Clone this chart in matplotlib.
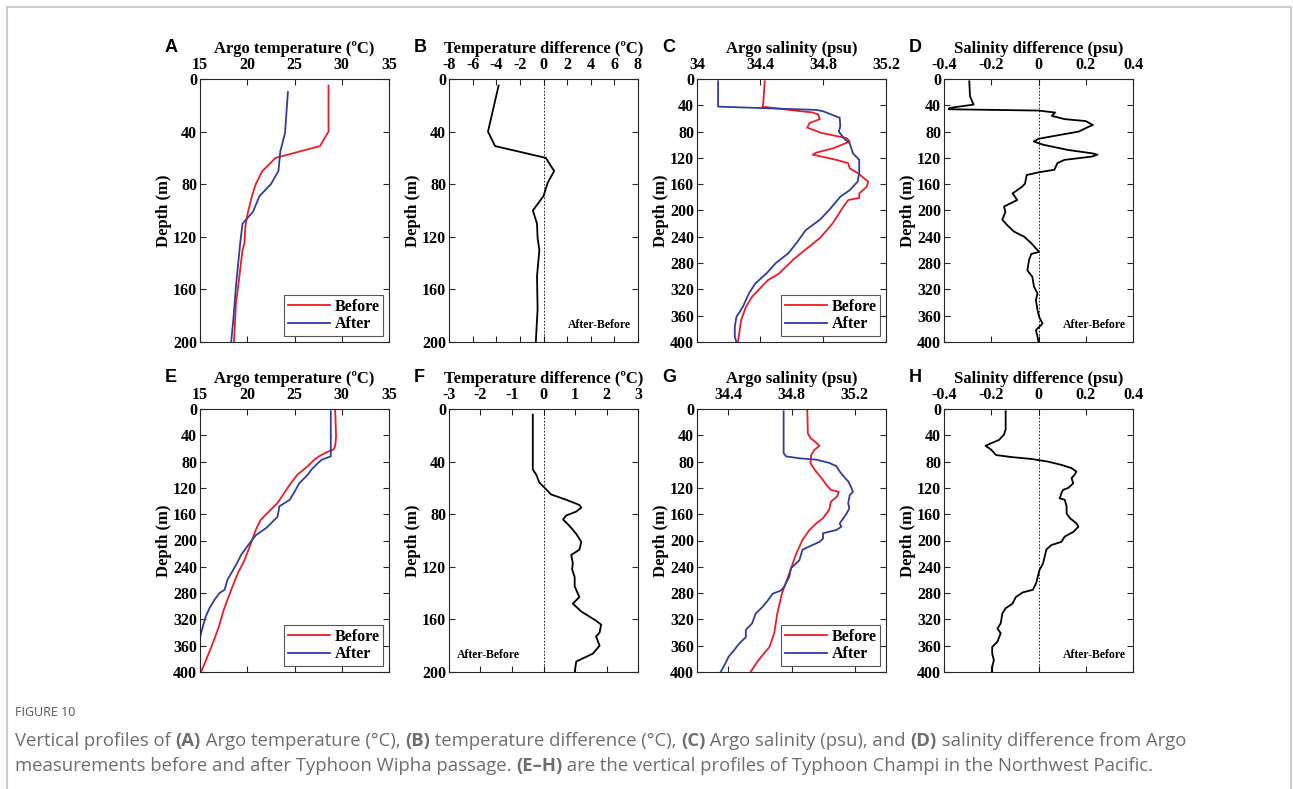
import matplotlib
matplotlib.use('Agg')
import matplotlib.pyplot as plt
from matplotlib.patches import Rectangle

# ---- data ----
# A: Typhoon Wipha, temperature
a_before_z = [5, 40, 51, 60, 70, 80, 89, 102, 112, 125, 130, 154, 171, 200]
a_before_t = [28.6, 28.6, 27.7, 23.0, 21.6, 20.9, 20.5, 20.05, 19.8, 19.7, 19.5, 19.1, 18.8, 18.6]
a_after_z = [10, 41, 55, 70, 80, 89, 101, 110, 125, 158, 181, 200]
a_after_t = [24.3, 24.0, 23.5, 23.3, 22.5, 21.3, 20.6, 19.5, 19.25, 18.8, 18.55, 18.3]

# B: temperature difference
b_z = [5, 40, 51, 60, 70, 79, 89, 100, 110, 121, 130, 150, 175, 200]
b_dt = [-3.8, -4.7, -4.1, 0.2, 0.9, 0.35, 0.0, -0.9, -0.55, -0.5, -0.35, -0.55, -0.5, -0.65]

# C: salinity
c_before_z = [3.5, 39, 42, 47, 51, 54, 61, 67, 74, 82, 90, 95, 105, 112, 115, 123, 128, 136,
              143, 156, 164, 174, 181, 184, 194, 220, 242, 263, 275, 296, 306, 331, 347, 367, 400]
c_before_s = [34.43, 34.42, 34.415, 34.585, 34.735, 34.77, 34.78, 34.714, 34.70, 34.79, 34.95,
              34.97, 34.87, 34.757, 34.735, 34.885, 34.96, 34.97, 35.02, 35.087, 35.077, 35.03,
              35.03, 34.96, 34.93, 34.86, 34.78, 34.67, 34.61, 34.52, 34.45, 34.35, 34.31, 34.28, 34.26]
c_after_z = [3.5, 42, 47, 49, 59, 72, 80, 92, 98, 113, 123, 143, 156, 169, 179, 199, 214, 230,
             250, 265, 280, 296, 311, 326, 347, 362, 377, 392, 400]
c_after_s = [34.134, 34.134, 34.757, 34.80, 34.906, 34.91, 34.90, 34.94, 34.97, 34.99, 35.03,
             35.03, 35.02, 34.97, 34.91, 34.84, 34.78, 34.69, 34.63, 34.58, 34.50, 34.44, 34.37,
             34.33, 34.29, 34.25, 34.24, 34.24, 34.25]

# D: salinity difference
d_z = [3.5, 26, 39, 44, 46, 48, 51, 56, 61, 64, 70, 73, 80, 87, 91, 95, 100, 108, 113, 115, 118,
       123, 128, 138, 142, 146, 159, 164, 174, 184, 194, 202, 214, 222, 232, 240, 250, 263, 266,
       275, 291, 301, 316, 326, 336, 352, 362, 372, 382, 392, 400]
d_ds = [-0.293, -0.29, -0.275, -0.377, -0.38, 0.0, 0.07, 0.056, 0.11, 0.20, 0.23, 0.21, 0.17,
        0.06, 0.0, -0.02, 0.02, 0.126, 0.226, 0.25, 0.226, 0.11, 0.08, 0.067, 0.0, -0.05, -0.057,
        -0.07, -0.11, -0.09, -0.146, -0.14, -0.153, -0.133, -0.104, -0.06, -0.03, 0.003, -0.03,
        -0.04, -0.047, -0.026, -0.019, -0.004, -0.011, -0.004, 0.003, 0.017, -0.011, -0.004, 0.0]

# E: Typhoon Champi, temperature
e_before_z = [0, 42, 57, 62, 65, 72, 77, 87, 100, 113, 128, 143, 153, 169, 184, 204, 230, 250,
              275, 306, 331, 362, 397, 400]
e_before_t = [29.3, 29.4, 29.3, 29.1, 28.5, 27.6, 27.1, 26.4, 25.3, 24.6, 23.9, 23.2, 22.5,
              21.4, 20.9, 20.4, 19.7, 19.0, 18.3, 17.5, 17.0, 16.2, 15.2, 15.1]
e_after_z = [3.5, 72, 77, 82, 92, 100, 113, 126, 138, 148, 164, 174, 181, 192, 207, 222, 232,
             245, 260, 275, 280, 291, 303, 316, 331, 347]
e_after_t = [28.84, 28.84, 27.9, 27.5, 26.8, 26.4, 25.5, 25.0, 24.5, 23.4, 23.2, 22.5, 22.0,
             20.9, 20.1, 19.35, 19.0, 18.5, 17.9, 17.6, 17.05, 16.5, 16.0, 15.6, 15.3, 15.0]

# F: temperature difference
f_z = [4.3, 39, 46, 50, 56, 61, 65, 69, 73, 75, 78, 81, 84, 89, 95, 101, 107, 111, 117, 122,
       128, 135, 143, 148, 154, 161, 164, 170, 173, 180, 186, 192, 200]
f_dt = [-0.34, -0.34, -0.34, -0.23, -0.13, 0.08, 0.24, 0.72, 1.14, 1.2, 1.04, 0.72, 0.62, 0.83,
        1.04, 1.2, 1.14, 0.88, 0.93, 0.91, 0.99, 0.99, 1.14, 0.93, 1.2, 1.67, 1.83, 1.78, 1.67,
        1.78, 1.57, 1.04, 0.99]

# G: salinity
g_before_z = [0, 37, 44, 49, 56, 62, 70, 82, 92, 108, 115, 123, 126, 133, 141, 153, 166, 174,
              184, 199, 220, 250, 280, 311, 341, 362, 382, 400]
g_before_s = [34.90, 34.904, 34.92, 34.946, 34.978, 34.946, 34.925, 34.92, 34.946, 35.0, 35.02,
              35.05, 35.10, 35.09, 35.05, 35.04, 35.0, 34.957, 34.914, 34.87, 34.83, 34.786,
              34.74, 34.71, 34.69, 34.66, 34.59, 34.54]
g_after_z = [3.5, 67, 72, 75, 77, 82, 87, 95, 105, 110, 118, 126, 131, 143, 151, 159, 166, 174,
             179, 184, 189, 197, 202, 209, 214, 230, 242, 255, 270, 276, 281, 291, 301, 311, 326,
             336, 347, 357, 367, 377, 387, 400]
g_after_s = [34.75, 34.75, 34.765, 34.85, 34.957, 35.04, 35.085, 35.106, 35.14, 35.16, 35.177,
             35.19, 35.17, 35.16, 35.167, 35.15, 35.13, 35.106, 35.117, 35.085, 35.0, 35.0,
             34.978, 34.914, 34.87, 34.85, 34.797, 34.786, 34.754, 34.733, 34.68, 34.65, 34.616,
             34.573, 34.55, 34.51, 34.51, 34.467, 34.435, 34.40, 34.38, 34.35]

# H: salinity difference
h_z = [3.5, 31, 39, 47, 52, 56, 62, 70, 73, 76, 80, 85, 90, 95, 100, 105, 113, 120, 123, 128,
       136, 138, 148, 159, 166, 174, 179, 187, 194, 202, 207, 214, 225, 235, 245, 255, 265, 275,
       279, 286, 296, 303, 311, 326, 334, 341, 354, 362, 372, 382, 392, 400]
h_ds = [-0.139, -0.139, -0.146, -0.167, -0.20, -0.224, -0.20, -0.18, -0.117, -0.03, 0.04,
        0.097, 0.14, 0.16, 0.153, 0.14, 0.147, 0.126, 0.104, 0.097, 0.09, 0.111, 0.119, 0.119,
        0.133, 0.161, 0.169, 0.147, 0.111, 0.097, 0.054, 0.033, 0.026, 0.019, 0.004, -0.003,
        -0.01, -0.024, -0.067, -0.096, -0.11, -0.139, -0.153, -0.16, -0.174, -0.16, -0.174,
        -0.196, -0.196, -0.189, -0.196, -0.196]

panel_letters = ['A', 'B', 'C', 'D', 'E', 'F', 'G', 'H']
titles = ['Argo temperature (ºC)', 'Temperature difference (ºC)', 'Argo salinity (psu)',
          'Salinity difference (psu)'] * 2

RED = '#ee1c25'
BLUE = '#2e3f9c'
SERIF = 'Liberation Serif'

fig = plt.figure(figsize=(12.93, 7.89), dpi=100)
W, H = 1293, 789

# light frame around the figure
fig.patches.append(Rectangle((7 / W, -0.01), 1284 / W, 1 - 7 / H + 0.01,
                             transform=fig.transFigure, fill=False,
                             edgecolor='#cccccc', linewidth=1.5))

lefts = [200, 449, 697, 944]
tops = [79, 409]
aw, ah = 189, 263

axes = []
for r in range(2):
    for c in range(4):
        ax = fig.add_axes([lefts[c] / W, 1 - (tops[r] + ah) / H, aw / W, ah / H])
        axes.append(ax)

def style(ax, xlim, xticks, xticklabels, ymax, title, letter):
    ax.set_xlim(*xlim)
    ax.set_ylim(ymax, 0)
    ax.set_xticks(xticks)
    ax.set_xticklabels(xticklabels)
    ax.set_yticks(range(0, ymax + 1, 40))
    ax.xaxis.tick_top()
    ax.xaxis.set_label_position('top')
    ax.tick_params(direction='in', length=4, width=0.8, top=True, bottom=True,
                   left=True, right=True, labelsize=11.5, pad=2, colors='#262626',
                   labelcolor='black')
    ax.tick_params(axis='x', pad=4)
    for lab in ax.get_xticklabels() + ax.get_yticklabels():
        lab.set_fontfamily(SERIF)
        lab.set_fontweight('bold')
    for sp in ax.spines.values():
        sp.set_color('#262626')
        sp.set_linewidth(0.8)
    ax.set_xlabel(title, fontfamily=SERIF, fontweight='bold', fontsize=12, labelpad=3.5)
    ax.set_ylabel('Depth (m)', fontfamily=SERIF, fontweight='bold', fontsize=12, labelpad=1)
    bb = ax.get_position()
    fig.text(bb.x0 - 35 / W, bb.y1 + 31 / H, letter, fontfamily='Liberation Sans',
             fontweight='bold', fontsize=13, ha='left', va='center')

def legend(ax):
    leg = ax.legend(loc='lower right', prop={'family': SERIF, 'weight': 'bold', 'size': 11.5},
                    fancybox=False, edgecolor='#555555', framealpha=1, handlelength=2.6,
                    handletextpad=0.3, borderpad=0.25, labelspacing=0.1, borderaxespad=0.35)
    leg.get_frame().set_linewidth(0.8)

def diff_note(ax, right=True):
    if right:
        ax.text(0.96, 0.04, 'After-Before', transform=ax.transAxes, ha='right', va='bottom',
                fontfamily=SERIF, fontweight='bold', fontsize=8.5)
    else:
        ax.text(0.04, 0.04, 'After-Before', transform=ax.transAxes, ha='left', va='bottom',
                fontfamily=SERIF, fontweight='bold', fontsize=8.5)

lw = 1.3
tempticks = [15, 20, 25, 30, 35]

# A
ax = axes[0]
ax.plot(a_before_t, a_before_z, color=RED, lw=lw, label='Before')
ax.plot(a_after_t, a_after_z, color=BLUE, lw=lw, label='After')
style(ax, (15, 35), tempticks, [str(t) for t in tempticks], 200, titles[0], panel_letters[0])
legend(ax)

# B
ax = axes[1]
ax.axvline(0, color='black', lw=0.6, ls=(0, (2, 2)))
ax.plot(b_dt, b_z, color='black', lw=lw)
bt = list(range(-8, 9, 2))
style(ax, (-8, 8), bt, [str(t) for t in bt], 200, titles[1], panel_letters[1])
diff_note(ax)

# C
ax = axes[2]
ax.plot(c_before_s, c_before_z, color=RED, lw=lw, label='Before')
ax.plot(c_after_s, c_after_z, color=BLUE, lw=lw, label='After')
style(ax, (34, 35.2), [34, 34.4, 34.8, 35.2], ['34', '34.4', '34.8', '35.2'], 400,
      titles[2], panel_letters[2])
legend(ax)

# D
ax = axes[3]
ax.axvline(0, color='black', lw=0.6, ls=(0, (2, 2)))
ax.plot(d_ds, d_z, color='black', lw=lw)
style(ax, (-0.4, 0.4), [-0.4, -0.2, 0, 0.2, 0.4], ['-0.4', '-0.2', '0', '0.2', '0.4'], 400,
      titles[3], panel_letters[3])
diff_note(ax)

# E
ax = axes[4]
ax.plot(e_before_t, e_before_z, color=RED, lw=lw, label='Before')
ax.plot(e_after_t, e_after_z, color=BLUE, lw=lw, label='After')
style(ax, (15, 35), tempticks, [str(t) for t in tempticks], 400, titles[4], panel_letters[4])
legend(ax)

# F
ax = axes[5]
ax.axvline(0, color='black', lw=0.6, ls=(0, (2, 2)))
ax.plot(f_dt, f_z, color='black', lw=lw)
ft = list(range(-3, 4))
style(ax, (-3, 3), ft, [str(t) for t in ft], 200, titles[5], panel_letters[5])
diff_note(ax, right=False)

# G
ax = axes[6]
ax.plot(g_before_s, g_before_z, color=RED, lw=lw, label='Before')
ax.plot(g_after_s, g_after_z, color=BLUE, lw=lw, label='After')
style(ax, (34.2, 35.4), [34.4, 34.8, 35.2], ['34.4', '34.8', '35.2'], 400,
      titles[6], panel_letters[6])
legend(ax)

# H
ax = axes[7]
ax.axvline(0, color='black', lw=0.6, ls=(0, (2, 2)))
ax.plot(h_ds, h_z, color='black', lw=lw)
style(ax, (-0.4, 0.4), [-0.4, -0.2, 0, 0.2, 0.4], ['-0.4', '-0.2', '0', '0.2', '0.4'], 400,
      titles[7], panel_letters[7])
diff_note(ax)

# ---- caption ----
CAP = 'Open Sans'
fig.text(15 / W, 1 - 712 / H, 'FIGURE 10', fontfamily=CAP, fontsize=9, color='#555555',
         va='center', ha='left')

renderer = fig.canvas.get_renderer()

def rich_line(x_px, y_px, pieces):
    x = x_px / W
    for txt, bold in pieces:
        t = fig.text(x, 1 - y_px / H, txt, fontfamily=CAP, fontsize=13.3, color='#6e6e6e',
                     fontweight='bold' if bold else 'normal', va='center', ha='left')
        bb = t.get_window_extent(renderer=renderer)
        x += bb.width / W

rich_line(15, 741, [('Vertical profiles of ', False), ('(A)', True),
                    (' Argo temperature (°C), ', False), ('(B)', True),
                    (' temperature difference (°C), ', False), ('(C)', True),
                    (' Argo salinity (psu), and ', False), ('(D)', True),
                    (' salinity difference from Argo', False)])
rich_line(15, 766, [('measurements before and after Typhoon Wipha passage. ', False),
                    ('(E\u2013H)', True),
                    (' are the vertical profiles of Typhoon Champi in the Northwest Pacific.', False)])

fig.savefig('out.png', dpi=100)
